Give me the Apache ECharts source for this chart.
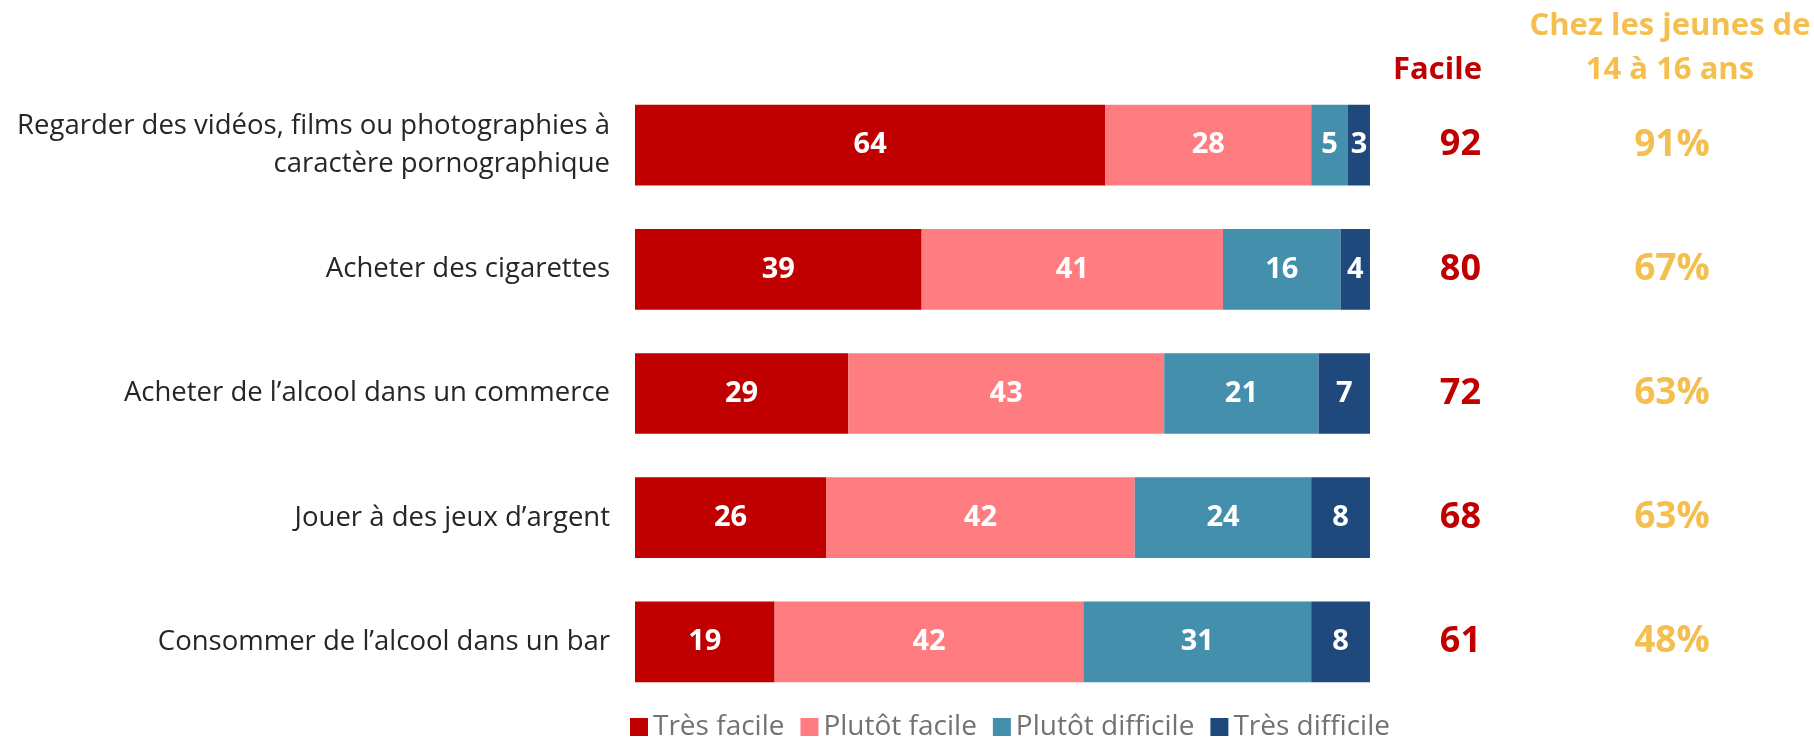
<!DOCTYPE html>
<html>
<head>
<meta charset="utf-8">
<script src="https://cdn.jsdelivr.net/npm/echarts@6/dist/echarts.min.js"></script>
<style>
  html, body { margin: 0; padding: 0; background: #fff; }
  #chart { width: 1814px; height: 744px; }
</style>
</head>
<body>
<div id="chart"></div>
<script>
// categories, top to bottom
const categories = [
  "Regarder des vidéos, films ou photographies à\ncaractère pornographique",
  "Acheter des cigarettes",
  "Acheter de l’alcool dans un commerce",
  "Jouer à des jeux d’argent",
  "Consommer de l’alcool dans un bar",
];
const tresFacile = [64, 39, 29, 26, 19];
const plutotFacile = [28, 41, 43, 42, 42];
const plutotDifficile = [5, 16, 21, 24, 31];
const tresDifficile = [3, 4, 7, 8, 8];
const facile = [92, 80, 72, 68, 61];
const jeunes = ["91%", "67%", "63%", "63%", "48%"];

const font = "Open Sans";
const colors = ["#c00000", "#ff7c80", "#438fac", "#1f497d"];

const chart = echarts.init(document.getElementById("chart"));

function barSeries(name, data, color) {
  return {
    name: name,
    type: "bar",
    stack: "total",
    data: data,
    barCategoryGap: "35%",
    itemStyle: { color: color },
    label: {
      show: true,
      color: "#fff",
      fontFamily: font,
      fontWeight: "bold",
      fontSize: 29,
    },
  };
}

function header(text, x, y, align, color) {
  return {
    type: "text", x: x, y: y,
    style: {
      text: text, align: align, verticalAlign: "middle",
      fontFamily: font, fontWeight: "bold", fontSize: 31, fill: color,
    },
  };
}

// reversed so the first category sits at the top
const rev = (a) => a.slice().reverse();

chart.setOption({
  animation: false,
  color: colors,
  grid: { left: 635, right: 444, top: 83, bottom: 40, containLabel: false },
  legend: {
    bottom: -2,
    left: 625,
    itemWidth: 18,
    itemHeight: 18,
    itemGap: 16,
    icon: "rect",
    textStyle: { fontFamily: font, fontSize: 28, color: "#767171", padding: [0, 0, 0, 0] },
    data: ["Très facile", "Plutôt facile", "Plutôt difficile", "Très difficile"],
  },
  xAxis: { type: "value", min: 0, max: 100, show: false },
  yAxis: [
    {
      type: "category",
      data: rev(categories),
      axisLine: { show: false },
      axisTick: { show: false },
      axisLabel: { fontFamily: font, fontSize: 27.5, color: "#262626", margin: 25, lineHeight: 38 },
    },
    {
      type: "category",
      position: "right",
      data: rev(facile),
      axisLine: { show: false },
      axisTick: { show: false },
      axisLabel: {
        align: "right", margin: 111, fontFamily: font, fontWeight: "bold",
        fontSize: 36, color: "#c00000",
      },
    },
    {
      type: "category",
      position: "right",
      data: rev(jeunes),
      axisLine: { show: false },
      axisTick: { show: false },
      axisLabel: {
        align: "center", margin: 302, fontFamily: font, fontWeight: "bold",
        fontSize: 37, color: "#f4bf4f",
      },
    },
  ],
  graphic: [
    header("Facile", 1482, 70, "right", "#c00000"),
    header("Chez les jeunes de", 1670, 26, "center", "#f4bf4f"),
    header("14 à 16 ans", 1670, 70, "center", "#f4bf4f"),
  ],
  series: [
    barSeries("Très facile", rev(tresFacile), colors[0]),
    barSeries("Plutôt facile", rev(plutotFacile), colors[1]),
    barSeries("Plutôt difficile", rev(plutotDifficile), colors[2]),
    barSeries("Très difficile", rev(tresDifficile), colors[3]),
  ],
});
</script>
</body>
</html>
